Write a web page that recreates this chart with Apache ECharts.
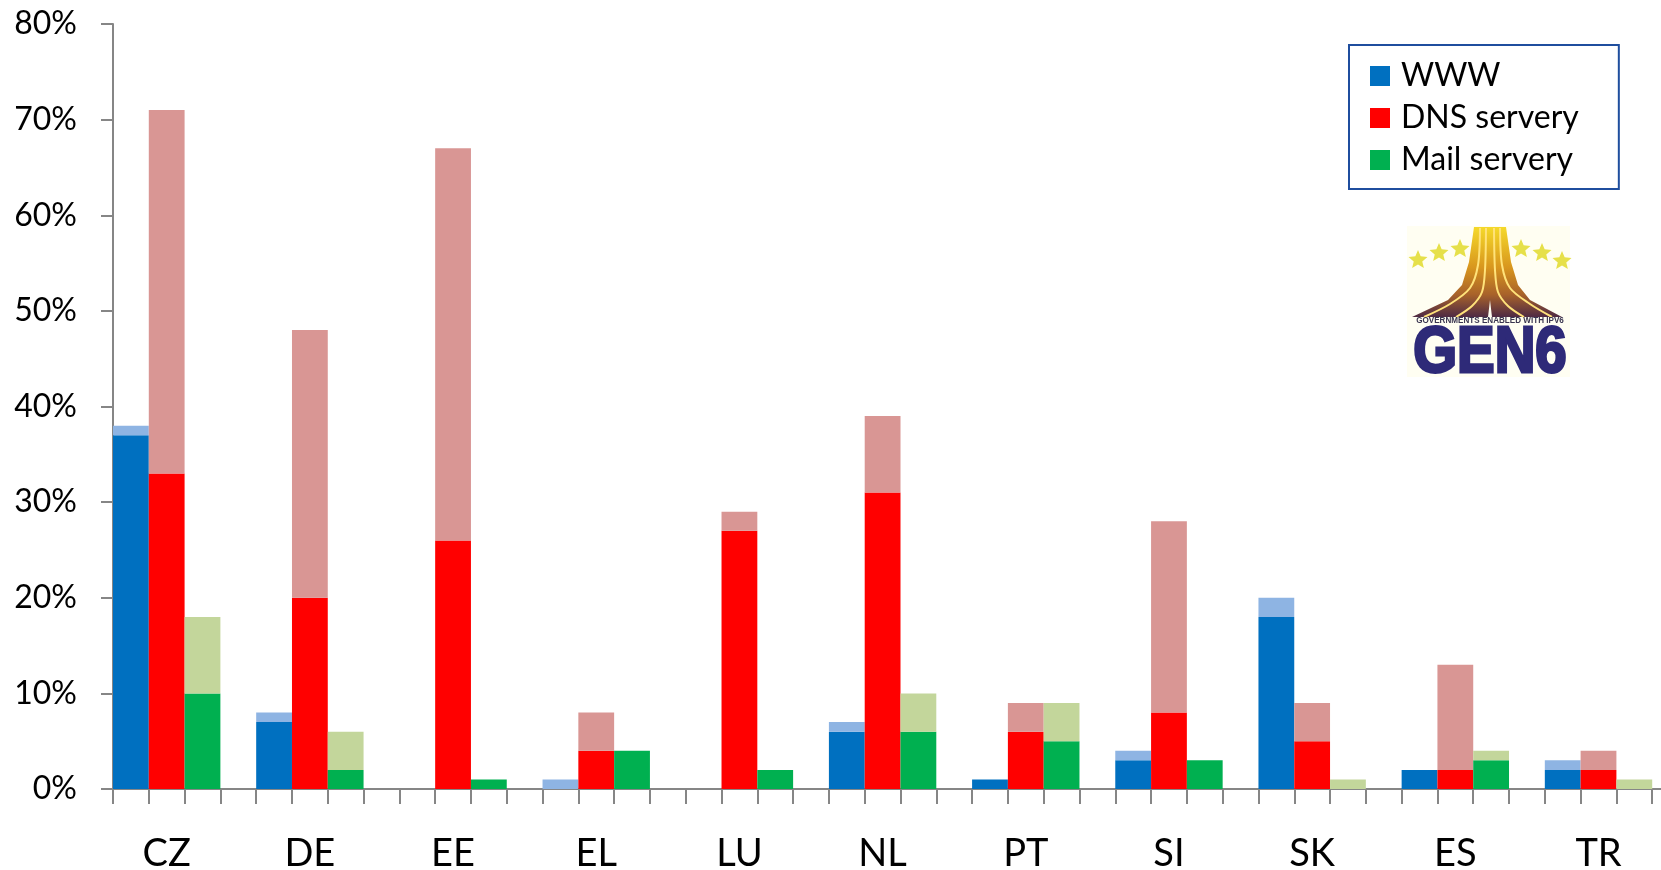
<!DOCTYPE html>
<html>
<head>
<meta charset="utf-8">
<title>IPv6 chart</title>
<script src="https://cdn.jsdelivr.net/npm/echarts@6/dist/echarts.min.js"></script>
<style>
  html, body { margin: 0; padding: 0; background: #fff; }
  #chart { width: 1661px; height: 870px; }
</style>
</head>
<body>
<div id="chart"></div>
<script>
let countries = ['CZ', 'DE', 'EE', 'EL', 'LU', 'NL', 'PT', 'SI', 'SK', 'ES', 'TR']
let yTicks = [0, 10, 20, 30, 40, 50, 60, 70, 80]

// solid part of each bar, then the pale part sitting on top of it
let wwwSolid = [37, 7, 0, 0, 0, 6, 1, 3, 18, 2, 2]
let wwwPale = [1, 1, 0, 1, 0, 1, 0, 1, 2, 0, 1]
let dnsSolid = [33, 20, 26, 4, 27, 31, 6, 8, 5, 2, 2]
let dnsPale = [38, 28, 41, 4, 2, 8, 3, 20, 4, 11, 2]
let mailSolid = [10, 2, 1, 4, 2, 6, 5, 3, 0, 3, 0]
let mailPale = [8, 4, 0, 0, 0, 4, 4, 0, 1, 1, 1]

let legendNames = ['WWW', 'DNS servery', 'Mail servery']
let slotsPerCountry = 4

// second axis: one slot per bar, the name sits under the middle bar
let slots = []
countries.forEach(function (name) {
  for (let i = 0; i < slotsPerCountry; i++) {
    slots.push(i === 1 ? name : '')
  }
})

function barSeries(name, stack, data, color) {
  return {
    name: name,
    type: 'bar',
    stack: stack,
    data: data,
    barGap: 0,
    barCategoryGap: 0,
    itemStyle: { color: color },
    animation: false,
    silent: true
  }
}

function star(cx, cy, r) {
  let pts = []
  for (let i = 0; i < 10; i++) {
    let rad = i % 2 ? r * 0.45 : r
    let a = -Math.PI / 2 + i * Math.PI / 5
    pts.push([cx + rad * Math.cos(a), cy + rad * Math.sin(a)])
  }
  return { type: 'polygon', shape: { points: pts }, style: { fill: '#e6e04a' } }
}

function fanLine(points) {
  return {
    type: 'polyline',
    shape: { points: points, smooth: 0.3 },
    style: { stroke: '#ffe27a', lineWidth: 2, fill: null }
  }
}

let logo = [
  { type: 'rect', shape: { x: 1407, y: 226, width: 163, height: 151 }, style: { fill: '#fffef2' } },
  {
    type: 'polygon',
    shape: {
      points: [[1474, 227], [1506, 227], [1511, 262], [1518, 285], [1530, 300], [1562, 317],
        [1492, 317], [1490, 300], [1488, 317], [1412, 317], [1448, 300], [1462, 285], [1469, 262]]
    },
    style: {
      fill: new echarts.graphic.LinearGradient(0, 0, 0, 1, [
        { offset: 0, color: '#f5d92a' },
        { offset: 0.45, color: '#d8961e' },
        { offset: 0.75, color: '#a8622a' },
        { offset: 1, color: '#4f2a44' }
      ])
    }
  },
  fanLine([[1480, 228], [1478, 265], [1470, 288], [1450, 304], [1424, 317]]),
  fanLine([[1486, 228], [1485, 270], [1482, 292], [1472, 306], [1456, 317]]),
  fanLine([[1494, 228], [1495, 270], [1498, 292], [1508, 306], [1524, 317]]),
  fanLine([[1500, 228], [1502, 265], [1510, 288], [1530, 304], [1552, 317]]),
  star(1418, 260, 10),
  star(1439, 253, 10),
  star(1460, 249, 10),
  star(1521, 249, 10),
  star(1542, 253, 10),
  star(1562, 261, 10),
  {
    type: 'text', x: 1490, y: 321, scaleX: 0.9,
    style: { text: 'GOVERNMENTS ENABLED WITH IPV6', fill: '#3a3550', font: 'bold 9px "Liberation Sans"', align: 'center', verticalAlign: 'middle' }
  },
  {
    type: 'text', x: 1490, y: 354, scaleX: 0.88,
    style: { text: 'GEN6', fill: '#2e2a78', stroke: '#2e2a78', lineWidth: 3, font: 'bold 64px "Liberation Sans"', align: 'center', verticalAlign: 'middle' }
  }
]

let axisGrey = '#868686'
let chart = echarts.init(document.getElementById('chart'))
let option = {
  backgroundColor: '#fff',
  textStyle: { fontFamily: 'Lato' },
  grid: { left: 113, width: 1575, top: 24, height: 765, outerBoundsMode: 'none' },
  legend: {
    left: 1349,
    top: 45,
    orient: 'vertical',
    align: 'left',
    data: legendNames,
    backgroundColor: '#fff',
    borderColor: '#1f4e9e',
    borderWidth: 2,
    padding: [15, 40, 13, 21],
    itemWidth: 20,
    itemHeight: 20,
    itemGap: 10,
    icon: 'rect',
    selectedMode: false,
    textStyle: { fontSize: 32, color: '#000', fontFamily: 'Lato', padding: [0, 0, 0, 6] }
  },
  xAxis: [
    {
      type: 'category',
      data: countries,
      show: false
    },
    {
      type: 'category',
      data: slots,
      position: 'bottom',
      axisLine: { lineStyle: { color: axisGrey, width: 2 } },
      axisTick: { show: true, length: 15, interval: 0, lineStyle: { color: axisGrey, width: 2 } },
      axisLabel: { interval: 0, margin: 46, fontSize: 38, color: '#000', fontFamily: 'Lato' }
    }
  ],
  yAxis: {
    type: 'value',
    min: yTicks[0],
    max: yTicks[yTicks.length - 1],
    interval: yTicks[1] - yTicks[0],
    splitLine: { show: false },
    axisLine: { show: true, lineStyle: { color: axisGrey, width: 2 } },
    axisTick: { show: true, length: 12, lineStyle: { color: axisGrey, width: 2 } },
    axisLabel: { formatter: '{value}%', margin: 36, fontSize: 32, color: '#000', fontFamily: 'Lato' }
  },
  series: [
    barSeries(legendNames[0], 'www', wwwSolid, '#0070c0'),
    barSeries('WWW pale', 'www', wwwPale, '#8eb4e3'),
    barSeries(legendNames[1], 'dns', dnsSolid, '#ff0000'),
    barSeries('DNS pale', 'dns', dnsPale, '#d99694'),
    barSeries(legendNames[2], 'mail', mailSolid, '#00b050'),
    barSeries('Mail pale', 'mail', mailPale, '#c3d69b'),
    // empty fourth bar keeps the gap between the countries
    barSeries('gap', 'gap', countries.map(function () { return null }), 'transparent')
  ],
  graphic: logo
}
chart.setOption(option)
</script>
</body>
</html>
